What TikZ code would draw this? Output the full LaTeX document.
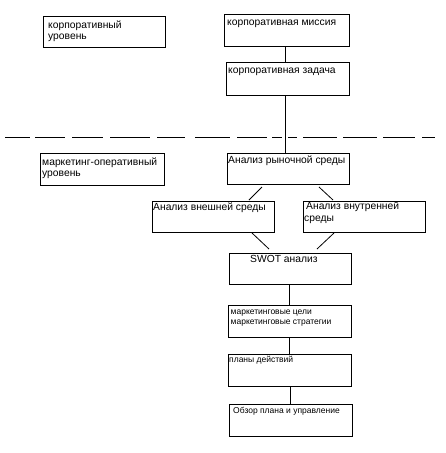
\documentclass[tikz,border=0pt]{standalone}
\usepackage{fontspec}
\setmainfont{Liberation Sans}
\begin{document}
\begin{tikzpicture}[x=1pt,y=-1pt,
  box/.style={draw=black,line width=0.8pt,rectangle,inner sep=0pt,anchor=north west},
  big/.style={anchor=base west,inner sep=0pt,font=\fontsize{10.3}{11.5}\selectfont},
  small/.style={anchor=base west,inner sep=0pt,font=\fontsize{8.5}{10.3}\selectfont},
  link/.style={draw=black,line width=0.8pt},
  sep/.style={draw=black,line width=0.8pt}]
\useasboundingbox (0,0) rectangle (445,453);
% boxes
\node[box,minimum width=122pt,minimum height=31pt] (b1) at (43,16) {};
\node[box,minimum width=125pt,minimum height=32pt] (b2) at (224,14) {};
\node[box,minimum width=123pt,minimum height=33pt] (b3) at (226,62) {};
\node[box,minimum width=124pt,minimum height=32pt] (b4) at (40,153) {};
\node[box,minimum width=122pt,minimum height=31pt] (b5) at (227,153) {};
\node[box,minimum width=122pt,minimum height=31pt] (b6) at (152,201) {};
\node[box,minimum width=122pt,minimum height=31pt] (b7) at (303,201) {};
\node[box,minimum width=122pt,minimum height=31pt] (b8) at (229,253) {};
\node[box,minimum width=123pt,minimum height=32pt] (b9) at (228,305) {};
\node[box,minimum width=123pt,minimum height=32pt] (b10) at (228,354) {};
\node[box,minimum width=123pt,minimum height=32pt] (b11) at (229,404) {};
% texts
\node[big] (t1) at (48,28) {корпоративный};
\node[big] (t1b) at (48,39.5) {уровень};
\node[big] (t2) at (227,25.5) {корпоративная миссия};
\node[big] (t3) at (228,73) {корпоративная задача};
\node[big] (t4) at (42,165) {маркетинг-оперативный};
\node[big] (t4b) at (42,176.5) {уровень};
\node[big] (t5) at (228,163.3) {Анализ рыночной среды};
\node[big] (t6) at (153,210) {Анализ внешней среды};
\node[big] (t7) at (306,209) {Анализ внутренней};
\node[big] (t7b) at (304,221.5) {среды};
\node[big] (t8) at (250,262.3) {SWOT анализ};
\node[small] (t9) at (230.5,314) {маркетинговые цели};
\node[small] (t9b) at (230.5,324.3) {маркетинговые стратегии};
\node[small] (t10) at (229,362.7) {планы действий};
\node[small] (t11) at (233,413.3) {Обзор плана и управление};
% separator
\foreach \a/\b in {5/30,35/65,72/103,110/150,157/185,195/230,237/267,272/282,288/297,303/337,343/377,383/415,422/435}
  \draw[sep] (\a,137) -- (\b,137);
% connectors
\coordinate (spine) at (285,0);
\draw[link] (b2.south -| spine) -- (b3.north -| spine);
\draw[link] (b3.south -| spine) -- (b5.north -| spine);
\coordinate (d1a) at (262,187); \coordinate (d1b) at (249,200);
\coordinate (d2a) at (319,187); \coordinate (d2b) at (333,200);
\coordinate (d3a) at (252,233); \coordinate (d3b) at (269,249);
\coordinate (d4a) at (334,233); \coordinate (d4b) at (317,249);
\draw[link] (d1a) -- (d1b);
\draw[link] (d2a) -- (d2b);
\draw[link] (d3a) -- (d3b);
\draw[link] (d4a) -- (d4b);
\coordinate (spine2) at (289,0);
\coordinate (spine3) at (290,0);
\draw[link] (b8.south -| spine2) -- (b9.north -| spine2);
\draw[link] (b9.south -| spine2) -- (b10.north -| spine2);
\draw[link] (b10.south -| spine3) -- (b11.north -| spine3);
\end{tikzpicture}
\end{document}
